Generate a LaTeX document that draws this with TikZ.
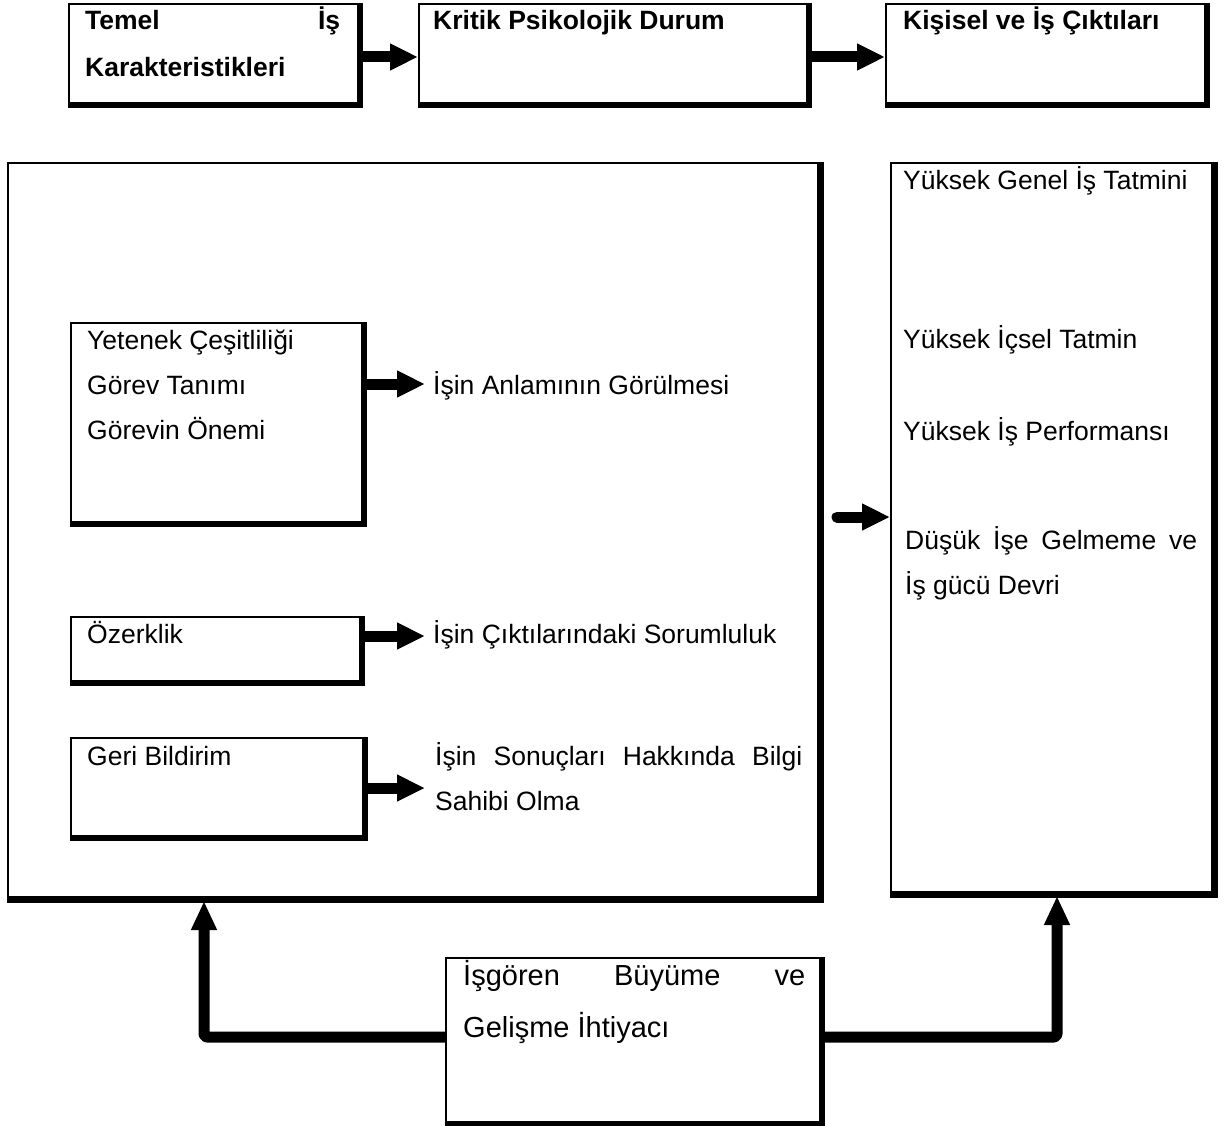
\documentclass[tikz,border=0pt]{standalone}
\usepackage{fontspec}
\setmainfont{Liberation Sans}
\usetikzlibrary{arrows.meta}

\tikzset{
  panel/.style={draw, line width=2pt, inner sep=0pt, anchor=north west},
  heavy/.style={line width=#1, line cap=butt, line join=miter},
  heavy/.default=6pt,
  txt/.style={anchor=base west, inner sep=0pt, align=left,
    font=\fontsize{26.5}{45}\selectfont},
  boldtxt/.style={txt, font=\fontsize{26.5}{47}\selectfont\bfseries},
  bigtxt/.style={txt, font=\fontsize{29}{52}\selectfont},
  arr/.style={line width=11pt, -{Triangle[length=28pt,width=25pt]}},
  elbow/.style={line width=11pt, line join=round, rounded corners=3pt,
    -{Triangle[length=29pt,width=24pt]}},
}

\begin{document}
\begin{tikzpicture}[x=1pt,y=-1pt]
\useasboundingbox (0,0) rectangle (1231,1126);
\fill[white] (0,0) rectangle (1231,1126);

% header boxes
\node[panel, minimum width=290, minimum height=100] (temel) at (68,3) {};
\node[panel, minimum width=389, minimum height=100] (kritik) at (418,3) {};
\node[panel, minimum width=320, minimum height=100] (cikti) at (885,3) {};
\foreach \b in {temel,kritik,cikti}
  \draw[heavy] (\b.north east) -- (\b.south east) -- (\b.south west);

% multi-line labels are placed by the baseline of their last line
\node[boldtxt] (ttemel) at (85,77) {\hbox to 255pt{Temel\hfill İş}\\Karakteristikleri};
\node[boldtxt] (tkritik) at (433,30) {Kritik Psikolojik Durum};
\node[boldtxt] (tcikti) at (903,30) {Kişisel ve İş Çıktıları};

\draw[arr] (temel.east |- 0,57) -- (kritik.west |- 0,57);
\draw[arr] (kritik.east |- 0,57) -- (cikti.west |- 0,57);

% main panels
\node[panel, minimum width=811, minimum height=735] (leftpanel) at (7,162) {};
\node[panel, minimum width=322, minimum height=730] (rightpanel) at (890,162) {};
\foreach \b in {leftpanel,rightpanel}
  \draw[heavy=7pt] (\b.north east) -- (\b.south east) -- (\b.south west);

% core job characteristics
\node[panel, minimum width=292, minimum height=200] (beceri) at (70,322) {};
\node[panel, minimum width=290, minimum height=65] (ozerk) at (70,616) {};
\node[panel, minimum width=293, minimum height=99] (geri) at (70,737) {};
\foreach \b in {beceri,ozerk,geri}
  \draw[heavy] (\b.north east) -- (\b.south east) -- (\b.south west);

\node[txt] (tbeceri) at (87,439) {Yetenek Çeşitliliği\\Görev Tanımı\\Görevin Önemi};
\node[txt] (tozerk) at (87,643) {Özerklik};
\node[txt] (tgeri) at (87,765) {Geri Bildirim};

% psychological states
\node[txt] (anlam) at (433,394) {İşin Anlamının Görülmesi};
\node[txt] (sorum) at (433,643) {İşin Çıktılarındaki Sorumluluk};
\node[txt] (bilgi) at (435,810) {\hbox to 367pt{İşin\hfill Sonuçları\hfill Hakkında\hfill Bilgi}\\Sahibi Olma};

\coordinate (e1) at (425,384);
\coordinate (e2) at (425,636);
\coordinate (e3) at (425,788);
\draw[arr] (beceri.east |- e1) -- (e1);
\draw[arr] (ozerk.east |- e2) -- (e2);
\draw[arr] (geri.east |- e3) -- (e3);

% outcomes
\node[txt] (genel) at (903,190) {Yüksek Genel İş Tatmini};
\node[txt] (icsel) at (903,348) {Yüksek İçsel Tatmin};
\node[txt] (perf) at (903,440) {Yüksek İş Performansı};
\node[txt] (devir) at (905,594) {\hbox to 292pt{Düşük\hfill İşe\hfill Gelmeme\hfill ve}\\İş gücü Devri};

\coordinate (mstart) at (837,517);
\draw[arr, line cap=round] (mstart) -- (rightpanel.west |- mstart);

% growth need strength
\node[panel, minimum width=375, minimum height=165] (gelisim) at (445,957) {};
\draw[heavy] (gelisim.north east) -- (gelisim.south east) -- (gelisim.south west);
\node[bigtxt] (tgelisim) at (463,1037) {\hbox to 342pt{İşgören\hfill Büyüme\hfill ve}\\Gelişme İhtiyacı};

\coordinate (ltip) at (204,901);
\coordinate (rtip) at (1057,896);
\draw[elbow] (gelisim.west |- 0,1037) -| (ltip);
\draw[elbow] (gelisim.east |- 0,1037) -| (rtip);
\end{tikzpicture}
\end{document}
